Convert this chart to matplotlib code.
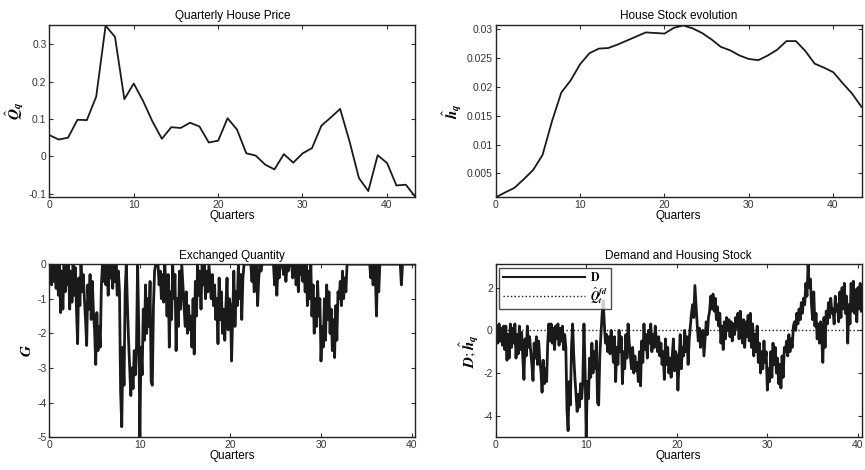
import numpy as np
import matplotlib
matplotlib.use('Agg')
import matplotlib.pyplot as plt
from matplotlib.ticker import FormatStrFormatter

plt.rcParams['font.family'] = ['Liberation Sans', 'DejaVu Sans']
plt.rcParams['mathtext.fontset'] = 'stix'
plt.rcParams['axes.unicode_minus'] = False

# quarterly house price (one point per quarter step)
price = [0.057, 0.045, 0.050, 0.098, 0.097, 0.160, 0.350, 0.320, 0.153, 0.195,
         0.148, 0.093, 0.047, 0.078, 0.076, 0.090, 0.080, 0.037, 0.042, 0.102,
         0.072, 0.008, 0.002, -0.022, -0.035, 0.006, -0.017, 0.008, 0.022, 0.082,
         0.104, 0.127, 0.040, -0.058, -0.093, 0.003, -0.018, -0.078, -0.076, -0.108]

# house stock evolution
stock = [0.00085, 0.0017, 0.0025, 0.0040, 0.0056, 0.0082, 0.0140, 0.0190, 0.0211, 0.0239,
         0.0258, 0.0266, 0.0267, 0.0273, 0.0280, 0.0287, 0.0294, 0.0293, 0.0292, 0.0302,
         0.0306, 0.0301, 0.0293, 0.0282, 0.0269, 0.0263, 0.0254, 0.0248, 0.0246, 0.0254,
         0.0264, 0.0279, 0.0279, 0.0262, 0.0240, 0.0233, 0.0225, 0.0206, 0.0188, 0.0165]
q_end = 43.4

# demand, 8 readings per quarter
demand = [
    -0.2, 0.2, -0.6, 0.3, -0.5, 0.1, -0.7, 0.2,
    -0.9, 0.2, -1.4, -0.2, -1.3, 0.3, -0.8, 0.1,
    -0.6, 0.3, -1.3, -0.2, -1.1, 0.2, -0.9, -0.1,
    -1.3, -2.3, -0.4, -1.2, 0.2, -0.8, -0.3, -1.0,
    -1.6, -2.35, -0.6, -1.3, -0.3, -1.6, -0.5, -1.4,
    -1.9, -2.9, -1.4, -2.5, -1.8, -2.4, -0.6, 0.3,
    -0.5, 0.3, -0.6, 0.1, -0.9, 0.2, -0.4, 0.3,
    -0.7, 0.1, -0.5, 0.2, -0.9, -0.2, -0.8, -3.7,
    -4.7, -2.4, -3.5, -0.8, 0.3, -1.2, -2.2, -3.0,
    -3.8, -3.0, -3.6, -2.5, -3.2, -2.4, 0.3, -1.8,
    -5.0, -2.4, -3.2, -1.3, -2.2, -0.6, -2.0, -1.0,
    -1.8, -0.5, -3.4, -3.5, -1.2, -0.2, 0.7, 1.4,
    0.3, -0.6, -0.2, -1.0, -0.3, -1.1, 0.0, -0.6,
    -1.5, -0.3, -2.4, -0.8, -1.6, 0.0, -1.0, -0.3,
    -2.5, -1.0, -1.8, -0.2, -1.3, 0.3, -0.6, -1.2,
    -1.8, -0.8, -2.0, -1.2, -1.9, -1.5, -2.4, -1.0,
    -2.6, -0.5, -1.5, 0.3, -0.9, -0.2, -1.3, 0.0,
    -0.6, 0.3, -1.0, -0.2, -0.8, 0.2, -0.5, -1.0,
    -0.3, -1.2, -0.6, -1.6, -1.0, -2.3, -0.4, -1.6,
    -0.8, -2.0, -1.3, -2.2, -1.2, -0.4, -1.9, -1.0,
    -1.2, -2.8, -1.5, -0.2, -1.8, -0.8, -1.2, 0.0,
    -1.0, -0.3, -1.6, -0.4, 0.2, 0.8, 1.2, 0.6,
    2.1, 1.2, 0.3, -0.5, 0.1, -0.8, -0.2, 0.0,
    -1.2, -0.4, 0.4, -0.2, 0.6, 0.9, 1.6, 1.0,
    1.7, 0.9, 1.5, 0.5, 1.1, 0.2, 0.8, -0.6,
    0.2, -0.9, 0.4, -0.4, 0.6, 0.0, 0.5, -0.3,
    0.4, -0.5, 0.3, -0.2, 0.6, 0.1, 0.8, -0.4,
    0.9, 0.2, -0.6, 0.5, -0.8, 0.4, -0.3, 0.7,
    -0.5, 0.8, -0.8, 0.3, -1.2, -0.2, -1.0, 0.2,
    -1.5, -0.6, -2.0, -1.0, -1.8, -0.5, -1.5, -1.0,
    -2.8, -1.8, -2.4, -1.0, -2.2, -0.6, -1.6, -0.8,
    -2.0, -1.3, -2.5, -1.6, -2.7, -1.2, -2.2, -0.8,
    -1.0, -0.5, -1.2, -0.2, -1.0, -0.4, -0.8, 0.2,
    0.4, 0.0, 0.8, 0.3, 1.0, 0.5, 1.3, 0.8,
    1.5, 1.2, 2.2, 1.6, 3.1, 2.0, 2.4, 1.2,
    0.5, 1.8, 0.2, 0.8, -0.4, 0.3, -0.6, 0.4,
    -0.3, -1.5, 0.6, -0.8, 0.9, 0.3, 1.3, 0.6,
    1.5, 0.8, 1.0, 0.3, 1.6, 0.9, 1.2, 0.4,
    1.8, 0.6, 2.0, 1.0, 2.2, 0.8, 1.6, -0.6,
    1.2, 0.3, 2.2, 0.9, 2.3, 0.8, 1.9, 0.4,
    2.0, 1.0, 2.2, 0.9,
]

price = np.array(price)
stock = np.array(stock)
demand = np.array(demand)
t_q = np.linspace(0, q_end, len(price))
t_d = np.arange(len(demand)) / 8.0
exchanged = np.minimum(demand, 0)

ink = '#1a1a1a'
fig = plt.figure(figsize=(8.65, 4.70), dpi=100)
ax1 = fig.add_axes([0.057, 0.580, 0.423, 0.367])
ax2 = fig.add_axes([0.573, 0.580, 0.423, 0.367])
ax3 = fig.add_axes([0.057, 0.070, 0.423, 0.368])
ax4 = fig.add_axes([0.573, 0.070, 0.423, 0.368])


def style(ax, title, ylab):
    ax.set_title(title, fontsize=8.5, pad=4)
    ax.set_xlabel('Quarters', fontsize=8.5, labelpad=0)
    ax.set_ylabel(ylab, fontsize=11, labelpad=2)
    ax.set_xticks([0, 10, 20, 30, 40])
    ax.tick_params(direction='in', top=True, right=True, labelsize=7.5,
                   length=3, width=0.8, pad=2, colors='#333333')
    for s in ax.spines.values():
        s.set_linewidth(1.0)
        s.set_color('#222222')


ax1.plot(t_q, price, color=ink, lw=1.3)
ax1.set_xlim(0, q_end)
ax1.set_ylim(-0.11, 0.352)
ax1.set_yticks([-0.1, 0, 0.1, 0.2, 0.3])
ax1.yaxis.set_major_formatter(FormatStrFormatter('%g'))
style(ax1, 'Quarterly House Price', r'$\hat{\mathbfit{Q}}_{\mathbfit{q}}$')

ax2.plot(t_q, stock, color=ink, lw=1.3)
ax2.set_xlim(0, q_end)
ax2.set_ylim(0.00085, 0.0307)
ax2.set_yticks([0.005, 0.01, 0.015, 0.02, 0.025, 0.03])
ax2.yaxis.set_major_formatter(FormatStrFormatter('%g'))
style(ax2, 'House Stock evolution', r'$\hat{\mathbfit{h}}_{\mathbfit{q}}$')

ax3.plot(t_d, exchanged, color=ink, lw=2.0)
ax3.set_xlim(0, 40.4)
ax3.set_ylim(-5, 0)
ax3.set_yticks([-5, -4, -3, -2, -1, 0])
style(ax3, 'Exchanged Quantity', r'$\mathbfit{G}$')

ax4.plot(t_d, demand, color=ink, lw=2.0, label=r'$\mathbf{D}$')
ax4.plot(t_d, np.zeros_like(t_d), color=ink, lw=1.0, ls=':',
         label=r'$\hat{\mathbfit{Q}}_{\mathbfit{t}}^{\mathbfit{fd}}$')
ax4.set_xlim(0, 40.4)
ax4.set_ylim(-5, 3.1)
ax4.set_yticks([-4, -2, 0, 2])
style(ax4, 'Demand and Housing Stock', r'$\mathbfit{D};\hat{\mathbfit{h}}_{\mathbfit{q}}$')
leg = ax4.legend(loc='upper left', fontsize=8.5, frameon=True, fancybox=False,
                 borderpad=0.3, labelspacing=0.1, handlelength=7,
                 handletextpad=0.4, borderaxespad=0.3)
leg.get_lines()[0].set_linewidth(1.5)
leg.get_frame().set_edgecolor('#222222')
leg.get_frame().set_linewidth(1.0)

fig.savefig('out.png', dpi=100)
